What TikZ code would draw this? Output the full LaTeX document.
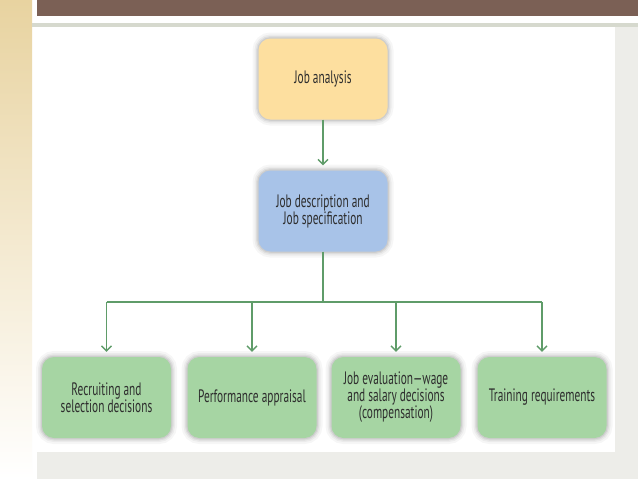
\documentclass[tikz,border=0pt]{standalone}
\usepackage{fontspec}
\setmainfont{PT Sans}[FakeStretch=0.63]
\usetikzlibrary{arrows.meta}
\definecolor{brownbar}{HTML}{7B6055}
\definecolor{tanstrip}{HTML}{E8D3A0}
\definecolor{greyband}{HTML}{EDEDE9}
\definecolor{rule}{HTML}{D6D9CE}
\definecolor{yel}{HTML}{FDDF9F}
\definecolor{blu}{HTML}{A8C3E8}
\definecolor{grn}{HTML}{A6D5A3}
\definecolor{lnk}{HTML}{5F9C69}
\definecolor{txt}{HTML}{2E2E2E}
\tikzset{
  softshadow/.style={
    preaction={draw=black, draw opacity=0.035, line width=12pt},
    preaction={draw=black, draw opacity=0.045, line width=8pt},
    preaction={draw=black, draw opacity=0.06, line width=5pt},
    preaction={draw=black, draw opacity=0.07, line width=2.5pt}},
  box/.style={rounded corners=12pt, minimum width=129pt, minimum height=81pt,
    align=center, text=txt, font=\fontsize{18}{17}\selectfont, inner sep=2pt, softshadow},
  link/.style={draw=lnk, line width=1.4pt},
  arr/.style={link, -{Straight Barb[length=5pt,width=10pt,line width=1.4pt]}, shorten >=5pt}
}
\begin{document}
\begin{tikzpicture}[x=1pt,y=-1pt]
\useasboundingbox (0,0) rectangle (638,479);
% background
\fill[white] (0,0) rectangle (638,479);
\shade[top color=tanstrip, bottom color=white] (0,0) rectangle (32,479);
\fill[brownbar] (37,0) rectangle (638,16);
\fill[rule] (32,23) rectangle (638,27);
\fill[greyband] (615,27) rectangle (638,479);
\fill[greyband] (37,452) rectangle (638,479);
% nodes
\node[box, fill=yel] (ja) at (323,79) {Job analysis};
\node[box, fill=blu] (jd) at (323,211) {Job description and\\Job specification};
\node[box, fill=grn] (b1) at (106.5,397.5) {Recruiting and\\selection decisions};
\node[box, fill=grn] (b2) at (252,397.5) {Performance appraisal};
\node[box, fill=grn] (b3) at (396,397.5) {Job evaluation---wage\\and salary decisions\\(compensation)};
\node[box, fill=grn] (b4) at (542,397.5) {Training requirements};
% connectors
\coordinate (j) at (323,302);
\draw[arr] (ja) -- (jd);
\draw[link] (jd) -- (j);
\draw[link] (b1 |- j) -- (b4 |- j);
\foreach \b in {b1,b2,b3,b4} \draw[arr] (\b |- j) -- (\b.north);
\end{tikzpicture}
\end{document}
